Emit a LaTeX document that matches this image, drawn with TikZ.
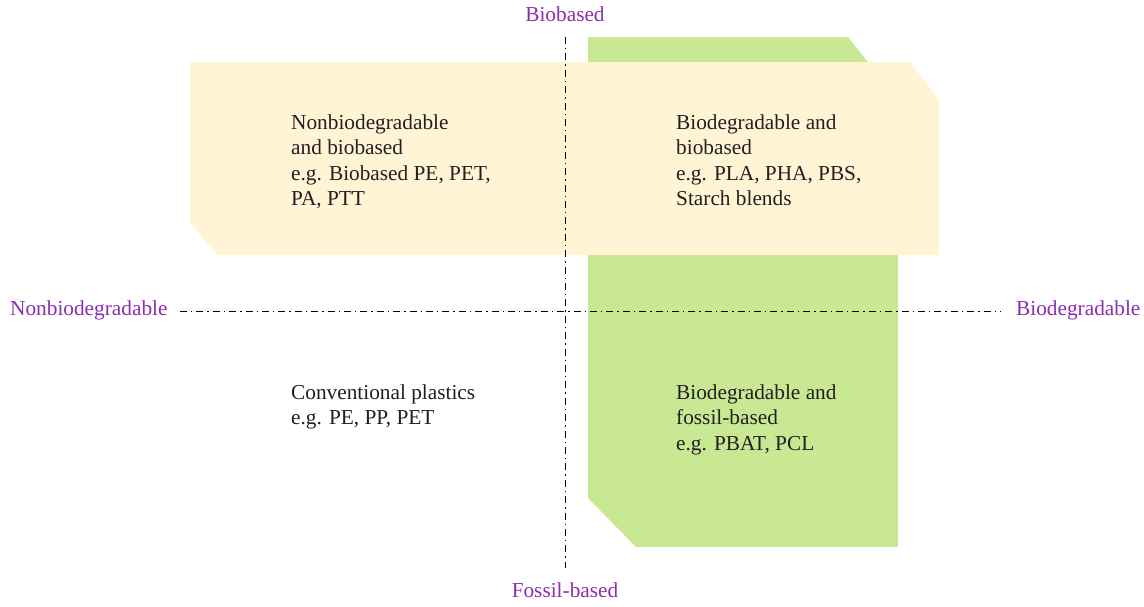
\documentclass[tikz,border=0pt]{standalone}
\usepackage{fontspec}
\setmainfont{Liberation Serif}
\definecolor{bggreen}{RGB}{201,232,147}
\definecolor{bgyellow}{RGB}{255,245,213}
\definecolor{axlabel}{RGB}{140,45,175}
\definecolor{txt}{RGB}{35,31,32}
\tikzset{
  axisline/.style={line width=0.9pt, black, dash pattern=on 7pt off 4pt on 1.4pt off 4pt},
  body/.style={anchor=base west, inner sep=0pt, text=txt, font=\fontsize{21.3}{25}\selectfont},
  axlab/.style={inner sep=0pt, text=axlabel, font=\fontsize{21.3}{25}\selectfont},
}
\begin{document}
\begin{tikzpicture}[x=1pt,y=-1pt]
\useasboundingbox (0,0) rectangle (1144,606);
% green region
\fill[bggreen] (588,37) -- (848,37) -- (898,100) -- (898,547) -- (636,547) -- (588,498) -- cycle;
% yellow region
\fill[bgyellow] (190,62) -- (910,62) -- (939,100) -- (939,255) -- (217,255) -- (190,223) -- cycle;
% axes
\coordinate (vt) at (565,37);
\coordinate (vb) at (565,568);
\coordinate (hl) at (180,311);
\coordinate (hr) at (1001,311);
\draw[axisline] (vt) -- (vb);
\draw[axisline] (hl) -- (hr);
% axis labels
\node[axlab, anchor=base] (lbio) at (565,21) {Biobased};
\node[axlab, anchor=base] (lfos) at (565,597) {Fossil-based};
\node[axlab, anchor=base west] (lnon) at (10,315) {Nonbiodegradable};
\node[axlab, anchor=base west] (ldeg) at (1016,315) {Biodegradable};
% top-left quadrant
\node[body] (a1) at (291,129) {Nonbiodegradable};
\node[body] (a2) at (291,154.5) {and biobased};
\node[body] (a3) at (291,180) {e.g. Biobased PE, PET,};
\node[body] (a4) at (291,205.5) {PA, PTT};
% top-right quadrant
\node[body] (b1) at (676,129) {Biodegradable and};
\node[body] (b2) at (676,154.5) {biobased};
\node[body] (b3) at (676,180) {e.g. PLA, PHA, PBS,};
\node[body] (b4) at (676,205.5) {Starch blends};
% bottom-left quadrant
\node[body] (c1) at (291,399) {Conventional plastics};
\node[body] (c2) at (291,424.5) {e.g. PE, PP, PET};
% bottom-right quadrant
\node[body] (d1) at (676,399) {Biodegradable and};
\node[body] (d2) at (676,424.5) {fossil-based};
\node[body] (d3) at (676,450) {e.g. PBAT, PCL};
\end{tikzpicture}
\end{document}
